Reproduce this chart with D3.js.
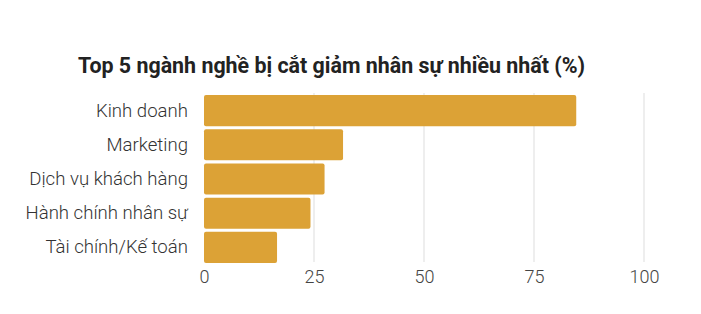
<!DOCTYPE html>
<meta charset="utf-8" />
<script src="https://d3js.org/d3.v7.min.js"></script>
<body style="margin:0;background:#fff">
  <div id="my_dataviz"></div>
  <script>
    // data
    const categories = ["Kinh doanh", "Marketing", "Dịch vụ khách hàng", "Hành chính nhân sự", "Tài chính/Kế toán"];
    const values = [84.6, 31.6, 27.4, 24.2, 16.6];
    const ticks = [0, 25, 50, 75, 100];

    const width = 701, height = 314;
    const margin = { top: 94, right: 57, bottom: 50, left: 204 };

    const svg = d3.select("#my_dataviz")
      .append("svg")
      .attr("width", width)
      .attr("height", height)
      .style("font-family", "Roboto, sans-serif");

    // title
    svg.append("text")
      .attr("x", 78)
      .attr("y", 73)
      .style("font-size", "21.4px")
      .style("font-weight", "bold")
      .style("fill", "#222")
      .text("Top 5 ngành nghề bị cắt giảm nhân sự nhiều nhất (%)");

    var x = d3.scaleLinear().domain([0, 100]).range([margin.left, 644]);
    var y = d3.scaleBand()
      .domain(categories)
      .range([margin.top, 264])
      .paddingInner(0.09)
      .paddingOuter(0.03);

    // gridlines
    svg.append("g")
      .selectAll("line")
      .data(ticks.slice(1))
      .enter()
      .append("line")
      .attr("x1", d => x(d))
      .attr("x2", d => x(d))
      .attr("y1", 93)
      .attr("y2", 262)
      .attr("stroke", "#e3e3e3")
      .attr("stroke-width", 1.2);

    // bars
    svg.append("g")
      .selectAll("rect")
      .data(values)
      .enter()
      .append("rect")
      .attr("x", x(0))
      .attr("y", (d, i) => y(categories[i]))
      .attr("width", d => x(d) - x(0))
      .attr("height", y.bandwidth())
      .attr("rx", 2)
      .attr("fill", "#dca236");

    // x axis
    var xAxis = svg.append("g")
      .attr("transform", "translate(0,263)")
      .call(d3.axisBottom(x).tickValues(ticks).tickSize(0).tickPadding(7));
    xAxis.select(".domain").remove();
    xAxis.selectAll("text")
      .style("font-size", "18px")
      .style("font-weight", "300")
      .style("font-family", "Roboto, sans-serif")
      .style("fill", "#444")
      .attr("dy", "0.71em");

    // y axis
    var yAxis = svg.append("g")
      .attr("transform", "translate(" + margin.left + ",0)")
      .call(d3.axisLeft(y).tickSize(0).tickPadding(16));
    yAxis.select(".domain").remove();
    yAxis.selectAll("text")
      .style("font-size", "18.6px")
      .style("font-weight", "300")
      .style("font-family", "Roboto, sans-serif")
      .style("fill", "#333");
  </script>
</body>
